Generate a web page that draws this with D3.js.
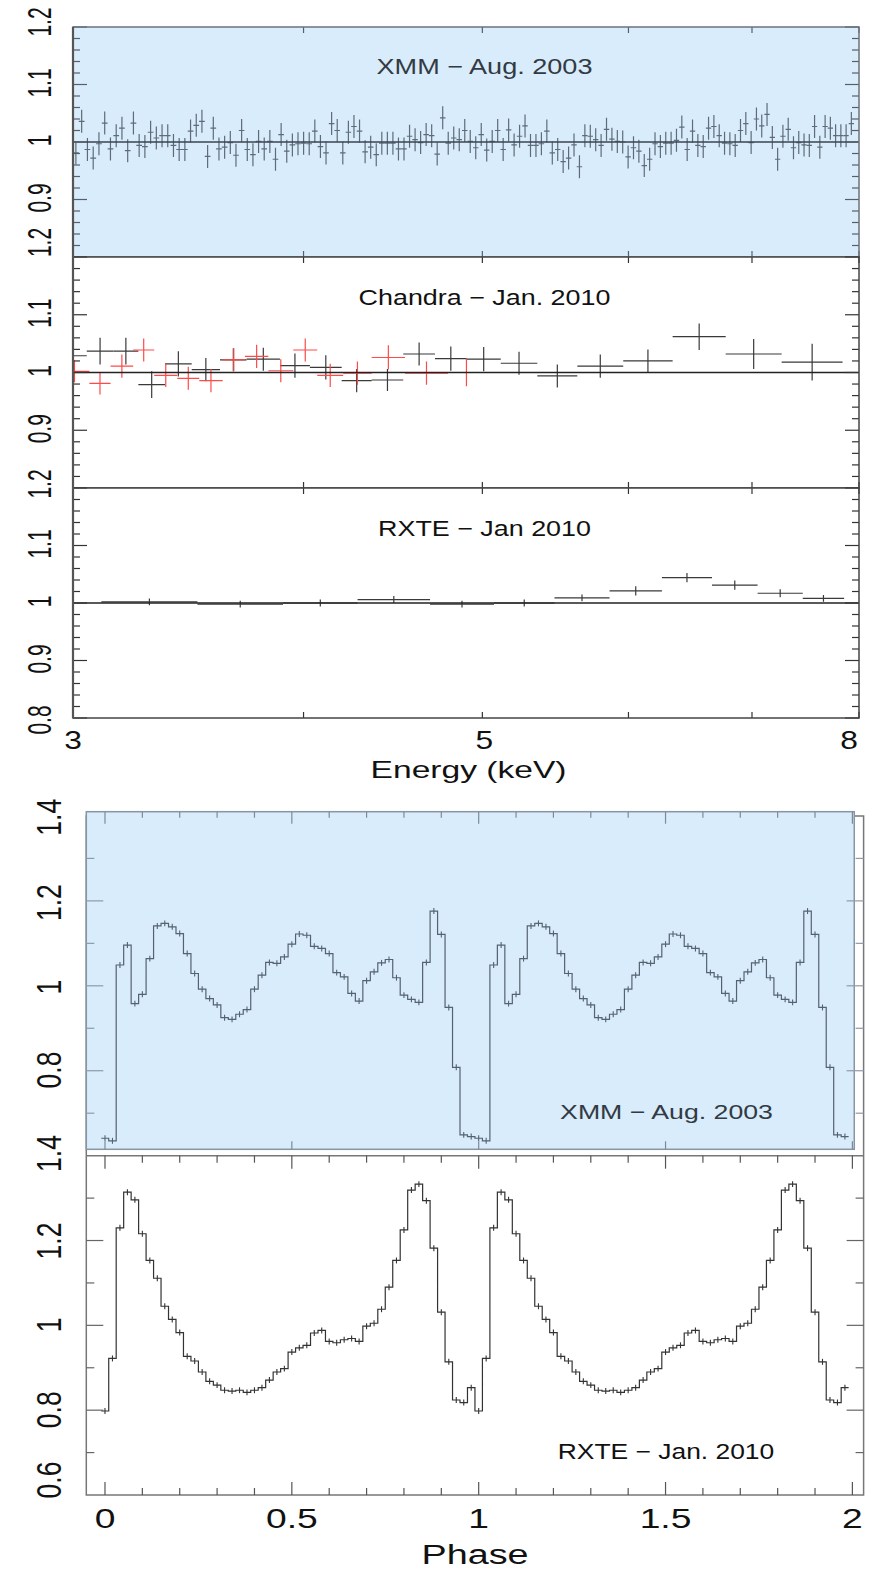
<!DOCTYPE html>
<html>
<head>
<meta charset="utf-8">
<script src="https://cdn.jsdelivr.net/npm/d3@7"></script>
<style>
  body { margin: 0; background: #fff; }
  text { font-family: "Liberation Sans", Arial, sans-serif; }
</style>
</head>
<body>
<svg id="chart" width="881" height="1569"></svg>
<script>
// ---------- data: spectral ratios (3-8 keV) ----------
var energyTicks = [3, 4, 5, 6, 7, 8];
var energyTickLabels = [3, 5, 8];
var ratioTicks = [0.8, 0.9, 1.0, 1.1, 1.2];

// XMM - Aug. 2003, ratio per bin (bins run from 3.0 to 7.95 keV)
var xmmSpecRatio = [
  0.981, 1.036, 0.987, 0.972, 0.997, 1.033, 0.988, 1.011, 1.024, 0.985,
  1.033, 0.994, 0.992, 1.017, 1.007, 1.011, 1.011, 0.994, 0.987, 0.987,
  1.019, 1.029, 1.036, 0.975, 1.024, 0.988, 0.991, 0.999, 0.977, 1.020,
  0.987, 0.978, 1.001, 0.988, 1.001, 0.970, 1.013, 0.984, 0.995, 0.997,
  0.998, 0.997, 1.019, 0.992, 0.981, 1.032, 1.020, 0.981, 1.017, 1.027,
  1.019, 0.983, 0.991, 0.978, 0.998, 0.998, 0.998, 0.988, 0.988, 1.010,
  1.004, 0.999, 1.013, 1.011, 0.979, 1.042, 0.998, 1.007, 1.004, 1.020,
  1.001,
  0.990, 1.013, 0.986, 1.001, 1.020, 0.987, 1.021, 0.995, 1.010, 1.028,
  0.994, 0.994, 0.997, 1.019, 0.981, 0.987, 0.966, 0.972, 0.995, 0.957,
  1.011, 1.010, 1.004, 0.994, 1.022, 1.005, 1.001, 1.000, 0.974, 0.990,
  0.984, 0.959, 0.970, 0.997, 0.992, 0.998, 0.998, 1.003, 1.026, 0.987,
  1.019, 0.994, 0.992, 1.024, 1.027, 1.011, 0.998, 0.997, 0.994, 1.020,
  1.032, 0.999, 1.040, 1.028, 1.048, 1.008, 0.970, 1.010, 1.022, 0.990,
  0.999, 0.995, 0.994, 1.027, 0.991, 1.027, 1.024, 1.011, 1.011, 1.011,
  1.032
];
var xmmSpecErr = 0.02;
var xmmSpecRange = [3.0, 7.95];

// Chandra - Jan. 2010 (two instruments: black and red)
var chandraBlackEdges = [2.95, 3.052, 3.155, 3.255, 3.365, 3.479, 3.604, 3.726, 3.884, 4.032, 4.195, 4.355,
  4.530, 4.713, 4.903, 5.116, 5.355, 5.629, 5.961, 6.340, 6.774, 7.264, 7.838];
var chandraBlackRatio = [1.029, 1.037, 1.037, 0.979, 1.015, 1.005, 1.022, 1.023, 1.012, 1.009, 0.986,
  0.987, 1.032, 1.024, 1.023, 1.016, 0.994, 1.011, 1.020, 1.062, 1.032, 1.018];
var chandraBlackErr = [0.020, 0.023, 0.023, 0.023, 0.022, 0.020, 0.020, 0.020, 0.021, 0.021, 0.020,
  0.019, 0.020, 0.021, 0.021, 0.020, 0.020, 0.020, 0.020, 0.023, 0.026, 0.032];

var chandraRedEdges = [2.95, 3.062, 3.144, 3.234, 3.320, 3.417, 3.512, 3.616, 3.718, 3.828, 3.949, 4.069,
  4.203, 4.355, 4.540, 4.790, 5.016];
var chandraRedRatio = [1.002, 0.981, 1.011, 1.039, 0.995, 0.990, 0.986, 1.022, 1.028, 1.003, 1.039,
  0.995, 0.999, 1.026, 0.999, 1.000];
var chandraRedErr = [0.019, 0.019, 0.020, 0.020, 0.020, 0.020, 0.020, 0.020, 0.020, 0.020, 0.020,
  0.020, 0.020, 0.021, 0.020, 0.024];

// RXTE - Jan 2010
var rxteSpecEdges = [3.108, 3.504, 3.899, 4.279, 4.684, 5.073, 5.471, 5.860, 6.256, 6.659, 7.049, 7.458, 7.853];
var rxteSpecRatio = [1.002, 0.998, 1.000, 1.006, 0.998, 1.000, 1.009, 1.021, 1.044, 1.031, 1.017, 1.008];
var rxteSpecErr = [0.006, 0.006, 0.006, 0.006, 0.006, 0.006, 0.006, 0.008, 0.008, 0.008, 0.007, 0.006];

// ---------- data: pulse profiles (50 phase bins, shown twice) ----------
var phaseTickLabels = [0, 0.5, 1, 1.5, 2];
var xmmPulse = [
  0.641, 0.635, 1.049, 1.096, 0.958, 0.980, 1.064, 1.141, 1.147, 1.139,
  1.123, 1.076, 1.029, 0.992, 0.970, 0.955, 0.925, 0.921, 0.933, 0.944,
  0.992, 1.025, 1.055, 1.053, 1.068, 1.098, 1.122, 1.119, 1.093, 1.088,
  1.076, 1.031, 1.021, 0.982, 0.964, 1.012, 1.033, 1.054, 1.062, 1.019,
  0.978, 0.968, 0.961, 1.055, 1.176, 1.121, 0.949, 0.808, 0.649, 0.645
];
var rxtePulse = [
  0.798, 0.922, 1.230, 1.314, 1.296, 1.216, 1.153, 1.111, 1.045, 1.014,
  0.983, 0.927, 0.916, 0.890, 0.868, 0.859, 0.847, 0.845, 0.847, 0.842,
  0.847, 0.853, 0.871, 0.890, 0.898, 0.937, 0.947, 0.953, 0.982, 0.988,
  0.962, 0.959, 0.966, 0.969, 0.962, 0.998, 1.005, 1.038, 1.090, 1.153,
  1.225, 1.319, 1.333, 1.294, 1.182, 1.031, 0.914, 0.824, 0.818, 0.853
];
var pulseErr = 0.007;

var svg = d3.select("#chart");
var BLUE = "#d9ecfc";

// text with a horizontal stretch (the original figure is stretched sideways)
function addText(parent, str, x, y, size, opts) {
    opts = opts || {};
    var t = parent.append("text")
        .attr("font-size", size)
        .attr("text-anchor", "middle")
        .attr("fill", opts.color || "#111")
        .text(str);
    if (opts.rotate) t.attr("dy", "0.36em");
    var sx = opts.sx || 1;
    if (opts.width) sx = opts.width / t.node().getComputedTextLength();
    t.attr("transform", "translate(" + x + "," + y + ") scale(" + sx + ",1)" + (opts.rotate ? " rotate(-90)" : ""));
    return t;
}

function crossPath(x, y, lo, hi, v, e) {
    var xc = x(Math.sqrt(lo * hi));
    return "M" + x(lo) + "," + y(v) + "H" + x(hi) +
        "M" + xc + "," + y(v - e) + "V" + y(v + e);
}

function drawCrosses(g, x, y, edges, vals, errs, color, width) {
    var bins = vals.map(function (v, i) {
        return { lo: edges[i], hi: edges[i + 1], v: v, e: Array.isArray(errs) ? errs[i] : errs };
    });
    g.selectAll(null).data(bins).enter().append("path")
        .attr("d", function (b) { return crossPath(x, y, b.lo, b.hi, b.v, b.e); })
        .attr("fill", "none")
        .attr("stroke", color)
        .attr("stroke-width", width);
}

// ================= top figure: spectral ratios =================
var xE = d3.scaleLog().domain([3, 8]).range([73, 859]);
var specPanels = [
    { top: 27, bottom: 257, fill: BLUE, axis: "#5a5f66", labels: [1.2, 1.1, 1.0, 0.9], topOffset: -5, text: "XMM \u2212 Aug. 2003", textY: 74, textW: 216, textColor: "#333a42" },
    { top: 257, bottom: 488, fill: "#fff", axis: "#333", labels: [1.2, 1.1, 1.0, 0.9], topOffset: -14.5, text: "Chandra \u2212 Jan. 2010", textY: 305, textW: 252, textColor: "#111" },
    { top: 488, bottom: 718, fill: "#fff", axis: "#333", labels: [1.2, 1.1, 1.0, 0.9, 0.8], topOffset: -4, text: "RXTE \u2212 Jan 2010", textY: 535.5, textW: 213, textColor: "#111" }
];

// log-spaced-ish grid for the XMM bins
var nX = xmmSpecRatio.length, pw = 0.1;
var xmmEdges = d3.range(nX + 1).map(function (k) {
    var a = Math.pow(xmmSpecRange[0], pw), b = Math.pow(xmmSpecRange[1], pw);
    return Math.pow(a + (b - a) * k / nX, 1 / pw);
});

specPanels.forEach(function (p, i) {
    var y = d3.scaleLinear().domain([0.8, 1.2]).range([p.bottom, p.top]);
    var g = svg.append("g");
    g.append("rect")
        .attr("x", xE.range()[0]).attr("y", p.top)
        .attr("width", xE.range()[1] - xE.range()[0]).attr("height", p.bottom - p.top)
        .attr("fill", p.fill);
    g.append("clipPath").attr("id", "spec-clip" + i).append("rect")
        .attr("x", xE.range()[0]).attr("y", p.top)
        .attr("width", xE.range()[1] - xE.range()[0]).attr("height", p.bottom - p.top);
    var data = g.append("g").attr("clip-path", "url(#spec-clip" + i + ")");

    if (i === 0) {
        drawCrosses(data, xE, y, xmmEdges, xmmSpecRatio, xmmSpecErr, "#5f6c78", 1.2);
    } else if (i === 1) {
        drawCrosses(data, xE, y, chandraBlackEdges, chandraBlackRatio, chandraBlackErr, "#3a3a3a", 1.2);
        drawCrosses(data, xE, y, chandraRedEdges, chandraRedRatio, chandraRedErr, "#ff4a4a", 1.2);
    } else {
        drawCrosses(data, xE, y, rxteSpecEdges, rxteSpecRatio, rxteSpecErr, "#3a3a3a", 1.2);
    }

    // unity line
    g.append("line")
        .attr("x1", xE.range()[0]).attr("x2", xE.range()[1])
        .attr("y1", y(1)).attr("y2", y(1))
        .attr("stroke", i === 0 ? "#3b4550" : "#222").attr("stroke-width", 1.4);

    // y ticks, left and right
    var minor = y.ticks(20), major = y.ticks(4);
    [[xE.range()[0], 1], [xE.range()[1], -1]].forEach(function (side) {
        g.selectAll(null).data(minor).enter().append("line")
            .attr("x1", side[0]).attr("x2", function (d) {
                var isMajor = major.some(function (m) { return Math.abs(m - d) < 1e-6; });
                return side[0] + side[1] * (isMajor ? 14 : 7);
            })
            .attr("y1", function (d) { return y(d); }).attr("y2", function (d) { return y(d); })
            .attr("stroke", p.axis).attr("stroke-width", 1.2);
    });
    // x ticks, top and bottom
    [[p.top, 1], [p.bottom, -1]].forEach(function (side) {
        g.selectAll(null).data(energyTicks).enter().append("line")
            .attr("x1", function (d) { return xE(d); }).attr("x2", function (d) { return xE(d); })
            .attr("y1", side[0]).attr("y2", side[0] + side[1] * 6)
            .attr("stroke", p.axis).attr("stroke-width", 1.2);
    });

    // frame
    g.append("rect")
        .attr("x", xE.range()[0]).attr("y", p.top)
        .attr("width", xE.range()[1] - xE.range()[0]).attr("height", p.bottom - p.top)
        .attr("fill", "none").attr("stroke", i === 0 ? "#6b737b" : "#444").attr("stroke-width", 1.5);

    // y labels
    p.labels.forEach(function (v) {
        var off = v === 1.2 ? p.topOffset : (v === 0.8 ? 2 : -1.5);
        addText(svg, +v.toFixed(1), 39.5, y(v) + off, 21, { rotate: true, sx: 1.55 });
    });

    addText(g, p.text, 484.5, p.textY, 21.5, { width: p.textW, color: p.textColor });
});

// left frame edge is heavier in the original
svg.append("line")
    .attr("x1", xE.range()[0]).attr("x2", xE.range()[0])
    .attr("y1", specPanels[0].top).attr("y2", specPanels[2].bottom)
    .attr("stroke", "#555").attr("stroke-width", 2.2);

energyTickLabels.forEach(function (e) {
    var shift = e === 8 ? -10 : (e === 5 ? 2 : 0);
    addText(svg, e, xE(e) + shift, 748.5, 25, { sx: 1.27 });
});
addText(svg, "Energy (keV)", 468.5, 778, 23.5, { width: 196 });

// ================= bottom figure: pulse profiles =================
var xPh = d3.scaleLinear().domain([-0.05, 2.03]).range([86.3, 863.6]);
var yXmm = d3.scaleLinear().domain([0.615, 1.41]).range([1149.3, 811.7]);
var yRxte = d3.scaleLinear().domain([0.6, 1.4]).range([1495, 1155.7]);
var binW = 1 / xmmPulse.length;

function twoCycles(prof) {
    var pts = [];
    [0, 1].forEach(function (c) {
        prof.forEach(function (v, i) { pts.push({ ph: c + i * binW, v: v }); });
    });
    return pts;
}

function drawProfile(g, prof, y, color) {
    var pts = twoCycles(prof);
    var stepPts = pts.map(function (d) { return [d.ph - binW / 2, d.v]; });
    stepPts.push([pts[pts.length - 1].ph + binW / 2, pts[pts.length - 1].v]);
    g.append("path")
        .attr("d", d3.line()
            .x(function (d) { return xPh(d[0]); })
            .y(function (d) { return y(d[1]); })
            .curve(d3.curveStepAfter)(stepPts))
        .attr("fill", "none").attr("stroke", color).attr("stroke-width", 1.2);
    g.selectAll(null).data(pts).enter().append("line")
        .attr("x1", function (d) { return xPh(d.ph); }).attr("x2", function (d) { return xPh(d.ph); })
        .attr("y1", function (d) { return y(d.v - pulseErr); }).attr("y2", function (d) { return y(d.v + pulseErr); })
        .attr("stroke", color).attr("stroke-width", 1.1);
}

var bottomG = svg.append("g");
var frameL = xPh(-0.05), frameR = xPh(2.03);

// outer frame of the RXTE plot
bottomG.append("rect")
    .attr("x", frameL).attr("y", 816)
    .attr("width", frameR - frameL).attr("height", yRxte(0.6) - 816)
    .attr("fill", "none").attr("stroke", "#777").attr("stroke-width", 1.5);

// XMM panel (blue)
var xmmG = bottomG.append("g");
xmmG.append("rect")
    .attr("x", frameL).attr("y", yXmm(1.41))
    .attr("width", xPh(2.005) - frameL).attr("height", yXmm(0.615) - yXmm(1.41))
    .attr("fill", BLUE).attr("stroke", "#8896a3").attr("stroke-width", 1.5);
drawProfile(xmmG, xmmPulse, yXmm, "#55626f");

var phMinor = d3.range(0, 21).map(function (k) { return k / 10; });
function phaseTicks(g, yPos, dir, majLen, minLen, color) {
    g.selectAll(null).data(phMinor).enter().append("line")
        .attr("x1", function (d) { return xPh(d); }).attr("x2", function (d) { return xPh(d); })
        .attr("y1", yPos)
        .attr("y2", function (d, i) { return yPos + dir * (i % 5 === 0 ? majLen : minLen); })
        .attr("stroke", color).attr("stroke-width", 1.2);
}
function valueTicks(g, y, vals, color) {
    [[frameL, 1], [frameR, -1]].forEach(function (side) {
        g.selectAll(null).data(vals).enter().append("line")
            .attr("x1", side[0])
            .attr("x2", function (d) { return side[0] + side[1] * (Math.round(d * 10) % 2 === 0 ? 17 : 8); })
            .attr("y1", function (d) { return y(d); }).attr("y2", function (d) { return y(d); })
            .attr("stroke", color).attr("stroke-width", 1.2);
    });
}
phaseTicks(xmmG, yXmm(1.41), 1, 12, 6, "#7d8a96");
xmmG.selectAll(null).data(phaseTickLabels).enter().append("line")
    .attr("x1", function (d) { return xPh(d); }).attr("x2", function (d) { return xPh(d); })
    .attr("y1", yXmm(0.615)).attr("y2", yXmm(0.615) - 8)
    .attr("stroke", "#7d8a96").attr("stroke-width", 1.2);
valueTicks(xmmG, yXmm, [0.7, 0.8, 0.9, 1.0, 1.1, 1.2, 1.3], "#8e9aa6");
addText(xmmG, "XMM \u2212 Aug. 2003", 666.5, 1119.3, 21, { width: 213, color: "#333a42" });

// RXTE panel
var rxteG = bottomG.append("g");
rxteG.append("line")
    .attr("x1", frameL).attr("x2", frameR)
    .attr("y1", yRxte(1.4)).attr("y2", yRxte(1.4))
    .attr("stroke", "#777").attr("stroke-width", 1.5);
drawProfile(rxteG, rxtePulse, yRxte, "#333");
phaseTicks(rxteG, yRxte(1.4), 1, 13, 7, "#555");
phaseTicks(rxteG, yRxte(0.6), -1, 13, 7, "#555");
valueTicks(rxteG, yRxte, [0.7, 0.8, 0.9, 1.0, 1.1, 1.2, 1.3], "#666");
addText(rxteG, "RXTE \u2212 Jan. 2010", 666, 1459.3, 22, { width: 216.5 });

// value labels
[[yXmm, [1.4, 1.2, 1.0, 0.8], { 1.4: 1.3, 1.2: 1.8, 1.0: 1.2, 0.8: -0.7 }],
 [yRxte, [1.4, 1.2, 1.0, 0.8, 0.6], { 1.4: -2.2, 1.2: 0.5, 1.0: -0.4, 0.8: -0.4, 0.6: -15 }]].forEach(function (set) {
    set[1].forEach(function (v) {
        addText(svg, +v.toFixed(1), 49, set[0](v) + set[2][v], 26.5, { rotate: true, sx: 1.3 });
    });
});

phaseTickLabels.forEach(function (ph) {
    addText(svg, ph, xPh(ph), 1528, 28, { sx: 1.33 });
});
addText(svg, "Phase", 475, 1563.5, 28, { width: 107 });
</script>
</body>
</html>
